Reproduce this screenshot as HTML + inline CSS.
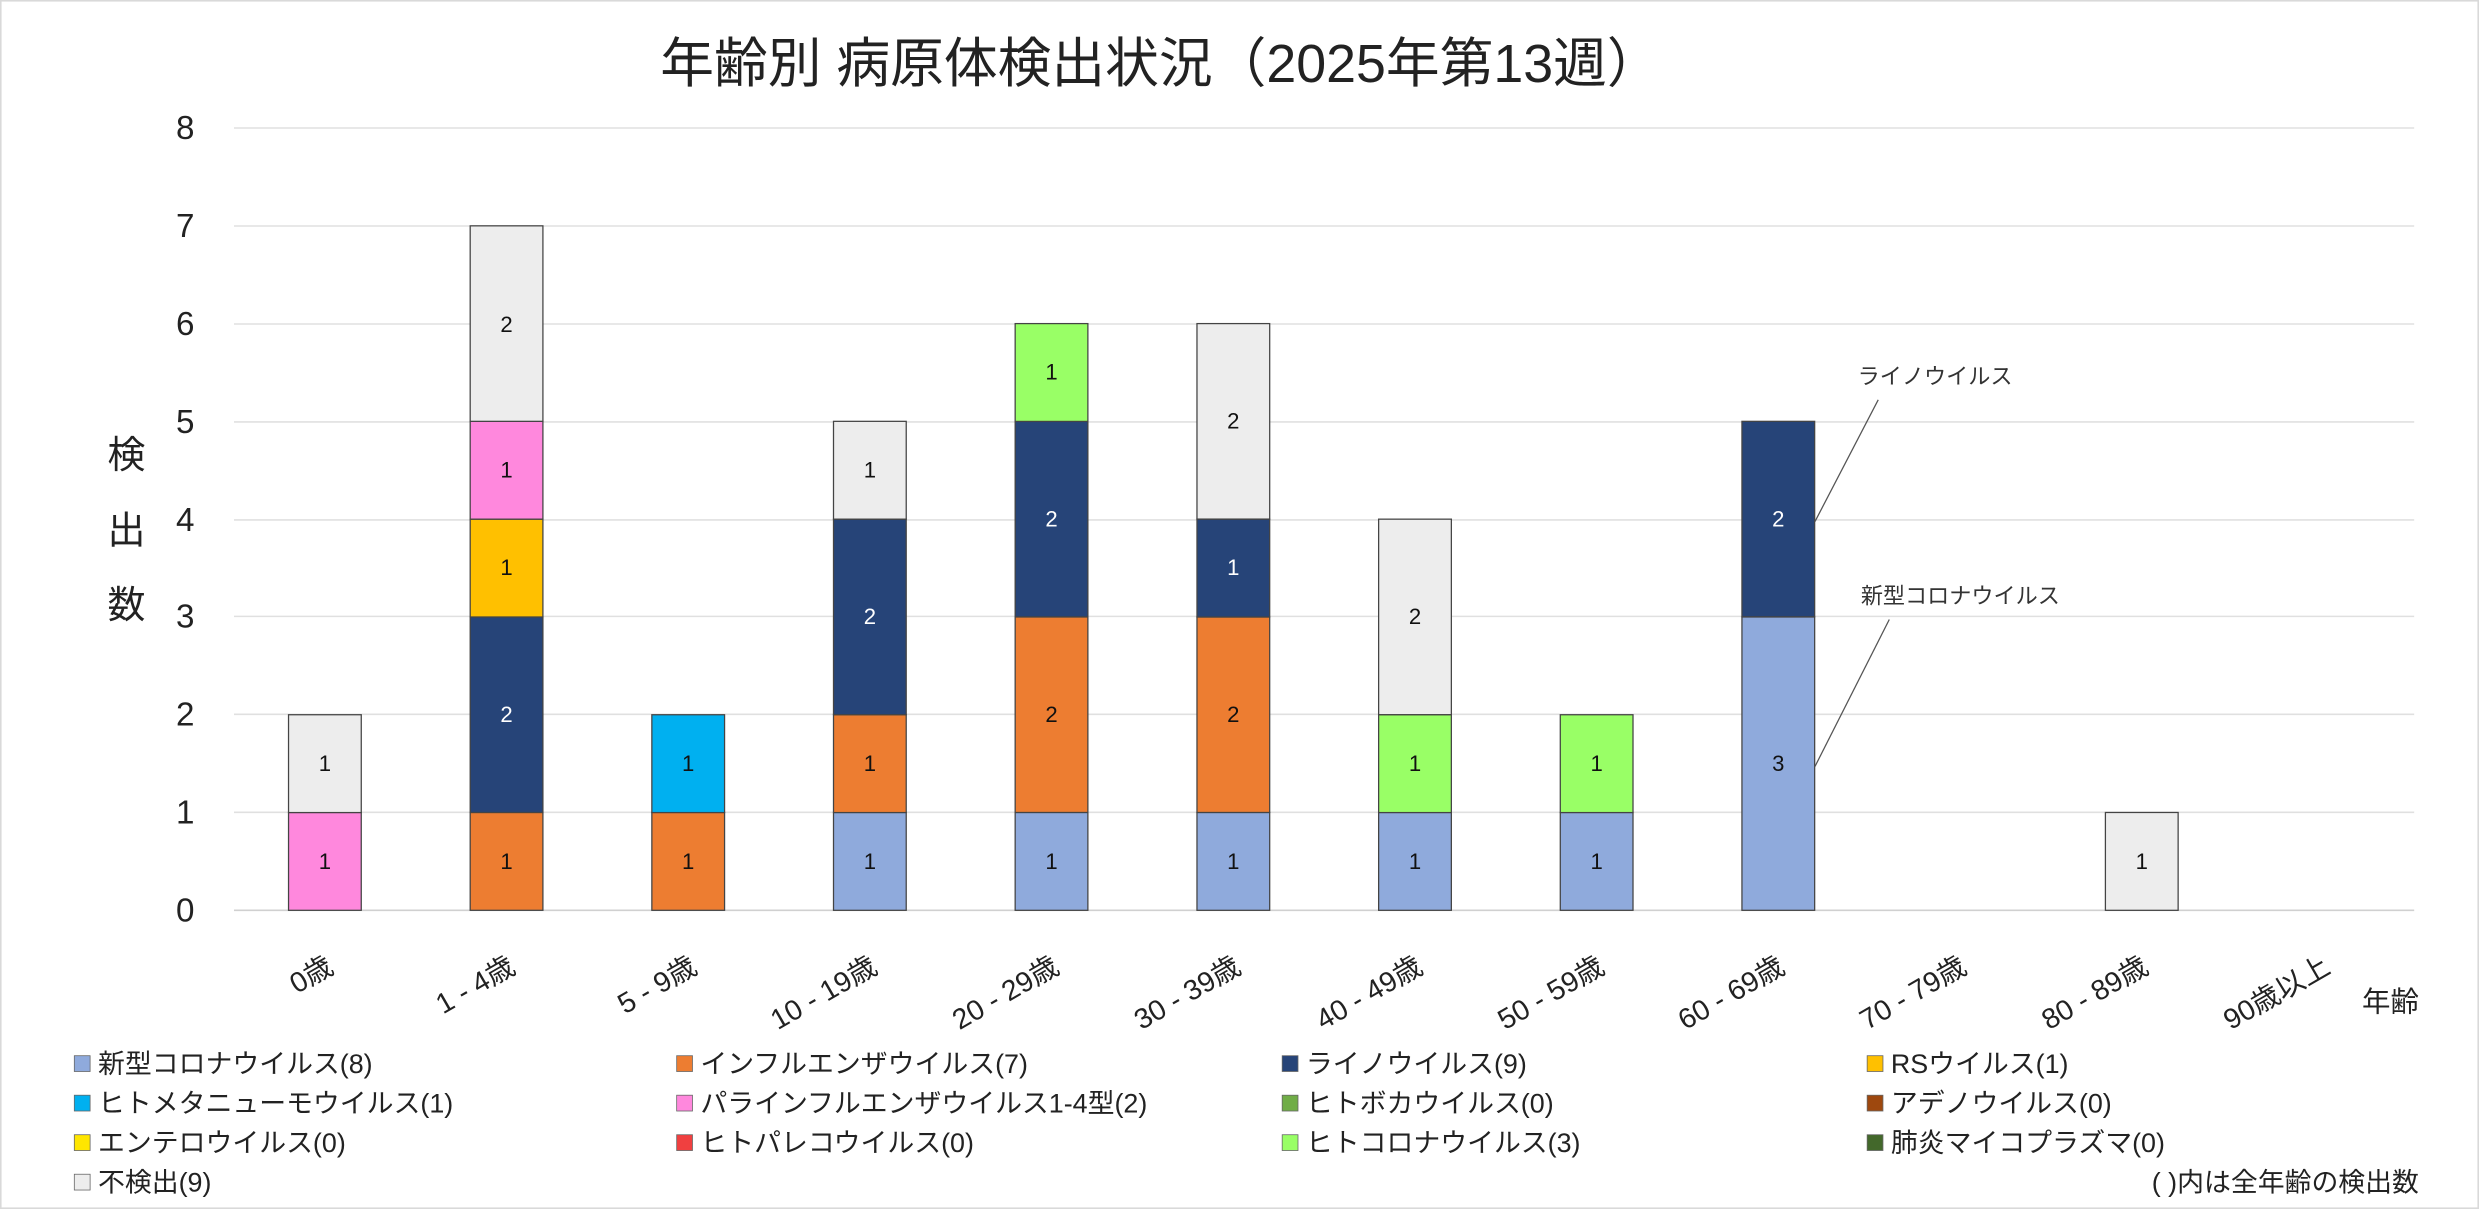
<!DOCTYPE html>
<html><head><meta charset="utf-8"><style>html,body{margin:0;padding:0;background:#fff}svg{display:block}text{font-family:"Liberation Sans","Noto Sans CJK JP",sans-serif}</style></head><body>
<svg width="2479" height="1209" viewBox="0 0 1568 765" preserveAspectRatio="none" xmlns="http://www.w3.org/2000/svg">
<rect x="0.5" y="0.5" width="1567" height="764" fill="#fff" stroke="#d9d9d9"/>
<text x="734" y="52" font-size="34" text-anchor="middle" fill="#222">年齢別 病原体検出状況（2025年第13週）</text>
<g stroke="#e0e0e0" stroke-width="1">
<line x1="148" x2="1527" y1="81" y2="81"/><line x1="148" x2="1527" y1="143" y2="143"/><line x1="148" x2="1527" y1="205" y2="205"/><line x1="148" x2="1527" y1="267" y2="267"/><line x1="148" x2="1527" y1="329" y2="329"/><line x1="148" x2="1527" y1="390" y2="390"/><line x1="148" x2="1527" y1="452" y2="452"/><line x1="148" x2="1527" y1="514" y2="514"/><line x1="148" x2="1527" y1="576" y2="576" stroke="#d0d0d0"/>
</g>
<g font-size="21" text-anchor="end" fill="#222">
<text x="123" y="88">8</text><text x="123" y="150">7</text><text x="123" y="212">6</text><text x="123" y="274">5</text><text x="123" y="336">4</text><text x="123" y="397">3</text><text x="123" y="459">2</text><text x="123" y="521">1</text><text x="123" y="583">0</text>
</g>
<g font-size="24" text-anchor="middle" fill="#222"><text x="80" y="296">検</text><text x="80" y="344">出</text><text x="80" y="391">数</text></g>
<g stroke="#444" stroke-width="0.8">
<rect x="182.5" y="514.1" width="46" height="61.9" fill="#ff88dd"/>
<rect x="182.5" y="452.25" width="46" height="61.9" fill="#ededed"/>
<rect x="297.4" y="514.1" width="46" height="61.9" fill="#ed7d31"/>
<rect x="297.4" y="390.4" width="46" height="123.7" fill="#264478"/>
<rect x="297.4" y="328.5" width="46" height="61.9" fill="#ffc000"/>
<rect x="297.4" y="266.6" width="46" height="61.9" fill="#ff88dd"/>
<rect x="297.4" y="142.9" width="46" height="123.7" fill="#ededed"/>
<rect x="412.3" y="514.1" width="46" height="61.9" fill="#ed7d31"/>
<rect x="412.3" y="452.25" width="46" height="61.9" fill="#00b0f0"/>
<rect x="527.2" y="514.1" width="46" height="61.9" fill="#8faadc"/>
<rect x="527.2" y="452.25" width="46" height="61.9" fill="#ed7d31"/>
<rect x="527.2" y="328.5" width="46" height="123.7" fill="#264478"/>
<rect x="527.2" y="266.6" width="46" height="61.9" fill="#ededed"/>
<rect x="642.1" y="514.1" width="46" height="61.9" fill="#8faadc"/>
<rect x="642.1" y="390.4" width="46" height="123.7" fill="#ed7d31"/>
<rect x="642.1" y="266.6" width="46" height="123.7" fill="#264478"/>
<rect x="642.1" y="204.75" width="46" height="61.9" fill="#99ff66"/>
<rect x="757.1" y="514.1" width="46" height="61.9" fill="#8faadc"/>
<rect x="757.1" y="390.4" width="46" height="123.7" fill="#ed7d31"/>
<rect x="757.1" y="328.5" width="46" height="61.9" fill="#264478"/>
<rect x="757.1" y="204.75" width="46" height="123.7" fill="#ededed"/>
<rect x="872" y="514.1" width="46" height="61.9" fill="#8faadc"/>
<rect x="872" y="452.25" width="46" height="61.9" fill="#99ff66"/>
<rect x="872" y="328.5" width="46" height="123.7" fill="#ededed"/>
<rect x="986.9" y="514.1" width="46" height="61.9" fill="#8faadc"/>
<rect x="986.9" y="452.25" width="46" height="61.9" fill="#99ff66"/>
<rect x="1101.8" y="390.4" width="46" height="185.6" fill="#8faadc"/>
<rect x="1101.8" y="266.6" width="46" height="123.7" fill="#264478"/>
<rect x="1331.7" y="514.1" width="46" height="61.9" fill="#ededed"/>
</g>
<g font-size="14" text-anchor="middle" fill="#111">
<text x="205.5" y="550">1</text><text x="205.5" y="488">1</text>
<text x="320.4" y="550">1</text><text x="320.4" y="457" fill="#fff">2</text><text x="320.4" y="364">1</text><text x="320.4" y="302">1</text><text x="320.4" y="210">2</text>
<text x="435.3" y="550">1</text><text x="435.3" y="488">1</text>
<text x="550.2" y="550">1</text><text x="550.2" y="488">1</text><text x="550.2" y="395" fill="#fff">2</text><text x="550.2" y="302">1</text>
<text x="665.1" y="550">1</text><text x="665.1" y="457">2</text><text x="665.1" y="333" fill="#fff">2</text><text x="665.1" y="240">1</text>
<text x="780.1" y="550">1</text><text x="780.1" y="457">2</text><text x="780.1" y="364" fill="#fff">1</text><text x="780.1" y="271">2</text>
<text x="895" y="550">1</text><text x="895" y="488">1</text><text x="895" y="395">2</text>
<text x="1009.9" y="550">1</text><text x="1009.9" y="488">1</text>
<text x="1124.8" y="488">3</text><text x="1124.8" y="333" fill="#fff">2</text>
<text x="1354.7" y="550">1</text>
</g>
<g font-size="18" fill="#222" text-anchor="end">
<text transform="translate(212,615) rotate(-30)">0歳</text>
<text transform="translate(327,615) rotate(-30)">1 - 4歳</text>
<text transform="translate(442,615) rotate(-30)">5 - 9歳</text>
<text transform="translate(556,615) rotate(-30)">10 - 19歳</text>
<text transform="translate(671,615) rotate(-30)">20 - 29歳</text>
<text transform="translate(786,615) rotate(-30)">30 - 39歳</text>
<text transform="translate(901,615) rotate(-30)">40 - 49歳</text>
<text transform="translate(1016,615) rotate(-30)">50 - 59歳</text>
<text transform="translate(1130,615) rotate(-30)">60 - 69歳</text>
<text transform="translate(1245,615) rotate(-30)">70 - 79歳</text>
<text transform="translate(1360,615) rotate(-30)">80 - 89歳</text>
<text transform="translate(1475,615) rotate(-30)">90歳以上</text>
</g>
<text x="1530" y="640" font-size="18" text-anchor="end" fill="#222">年齢</text>
<text x="1175" y="243" font-size="14" fill="#333">ライノウイルス</text>
<line x1="1188" y1="253" x2="1148" y2="330" stroke="#555" stroke-width="0.8"/>
<text x="1177" y="382" font-size="14" fill="#333">新型コロナウイルス</text>
<line x1="1195" y1="392" x2="1148" y2="485" stroke="#555" stroke-width="0.8"/>
<g font-size="17" fill="#222">
<rect x="47" y="668" width="10" height="10" fill="#8faadc" stroke="#666" stroke-width=".5"/><text x="62" y="679">新型コロナウイルス(8)</text>
<rect x="428" y="668" width="10" height="10" fill="#ed7d31" stroke="#666" stroke-width=".5"/><text x="443" y="679">インフルエンザウイルス(7)</text>
<rect x="811" y="668" width="10" height="10" fill="#264478" stroke="#666" stroke-width=".5"/><text x="826" y="679">ライノウイルス(9)</text>
<rect x="1181" y="668" width="10" height="10" fill="#ffc000" stroke="#666" stroke-width=".5"/><text x="1196" y="679">RSウイルス(1)</text>
<rect x="47" y="693" width="10" height="10" fill="#00b0f0" stroke="#666" stroke-width=".5"/><text x="62" y="704">ヒトメタニューモウイルス(1)</text>
<rect x="428" y="693" width="10" height="10" fill="#ff88dd" stroke="#666" stroke-width=".5"/><text x="443" y="704">パラインフルエンザウイルス1-4型(2)</text>
<rect x="811" y="693" width="10" height="10" fill="#70ad47" stroke="#666" stroke-width=".5"/><text x="826" y="704">ヒトボカウイルス(0)</text>
<rect x="1181" y="693" width="10" height="10" fill="#9e480e" stroke="#666" stroke-width=".5"/><text x="1196" y="704">アデノウイルス(0)</text>
<rect x="47" y="718" width="10" height="10" fill="#ffe600" stroke="#666" stroke-width=".5"/><text x="62" y="729">エンテロウイルス(0)</text>
<rect x="428" y="718" width="10" height="10" fill="#f04040" stroke="#666" stroke-width=".5"/><text x="443" y="729">ヒトパレコウイルス(0)</text>
<rect x="811" y="718" width="10" height="10" fill="#99ff66" stroke="#666" stroke-width=".5"/><text x="826" y="729">ヒトコロナウイルス(3)</text>
<rect x="1181" y="718" width="10" height="10" fill="#43682b" stroke="#666" stroke-width=".5"/><text x="1196" y="729">肺炎マイコプラズマ(0)</text>
<rect x="47" y="743" width="10" height="10" fill="#ededed" stroke="#666" stroke-width=".5"/><text x="62" y="754">不検出(9)</text>
<text x="1530" y="754" text-anchor="end">( )内は全年齢の検出数</text>
</g>
</svg>
</body></html>
